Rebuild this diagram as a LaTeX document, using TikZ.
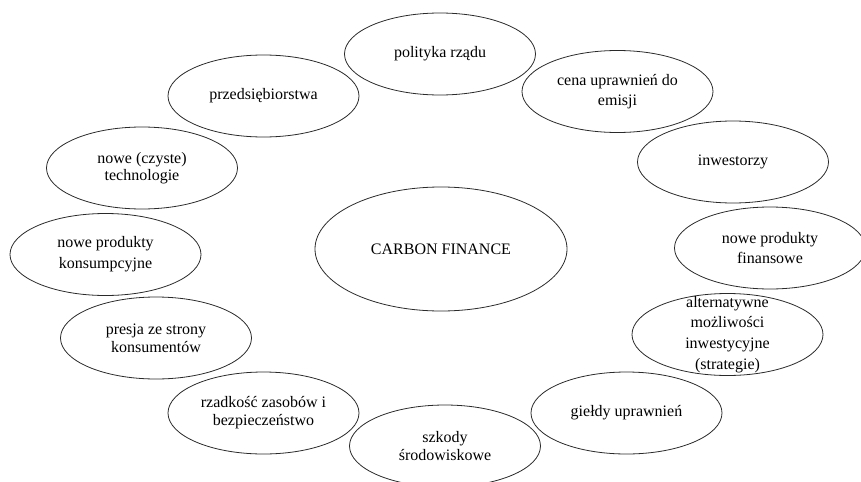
\documentclass[tikz,border=0pt]{standalone}
\usepackage{fontspec}
\setmainfont{Liberation Serif}
\newfontfamily\tnr{Liberation Serif}
\usepackage{tikz}
\usetikzlibrary{shapes.geometric}
\definecolor{ink}{HTML}{2A2A2A}
\tikzset{
  ovl/.style={ellipse, draw=ink, line width=0.6pt, inner sep=0pt, align=center,
              font=\tnr\fontsize{12}{15.5}\selectfont, minimum width=143.25pt, minimum height=61.5pt},
  tight/.style={font=\tnr\fontsize{12}{13.5}\selectfont},
  hub/.style={ovl, minimum width=189pt, minimum height=93pt},
}
\begin{document}
\begin{tikzpicture}[x=0.75pt, y=-0.75pt]
  % canvas in pixel units, y going down
  \useasboundingbox (0,0) rectangle (861,482);
  \node[hub] (carbon) at (441,249) {CARBON FINANCE};
  \node[ovl] (rzad) at (440,54) {polityka rządu};
  \node[ovl] (cena) at (617.5,91.5) {cena uprawnień do\\emisji};
  \node[ovl] (inw) at (733,162) {inwestorzy};
  \node[ovl] (finprod) at (770,248) {nowe produkty\\finansowe};
  \node[ovl, inner ysep=-8pt] (alt) at (727.5,334.5) {alternatywne\\możliwości\\inwestycyjne\\(strategie)};
  \node[ovl] (gieldy) at (626.5,413) {giełdy uprawnień};
  \node[ovl, tight] (szkody) at (445,446) {szkody\\środowiskowe};
  \node[ovl, tight] (zasoby) at (263.5,413) {rzadkość zasobów i\\bezpieczeństwo};
  \node[ovl, tight] (presja) at (156,338) {presja ze strony\\konsumentów};
  \node[ovl] (konsprod) at (105.5,254.5) {nowe produkty\\konsumpcyjne};
  \node[ovl, font=\tnr\fontsize{12}{13}\selectfont] (tech) at (142,168) {nowe (czyste)\\technologie};
  \node[ovl] (firmy) at (263.5,96) {przedsiębiorstwa};
\end{tikzpicture}
\end{document}
